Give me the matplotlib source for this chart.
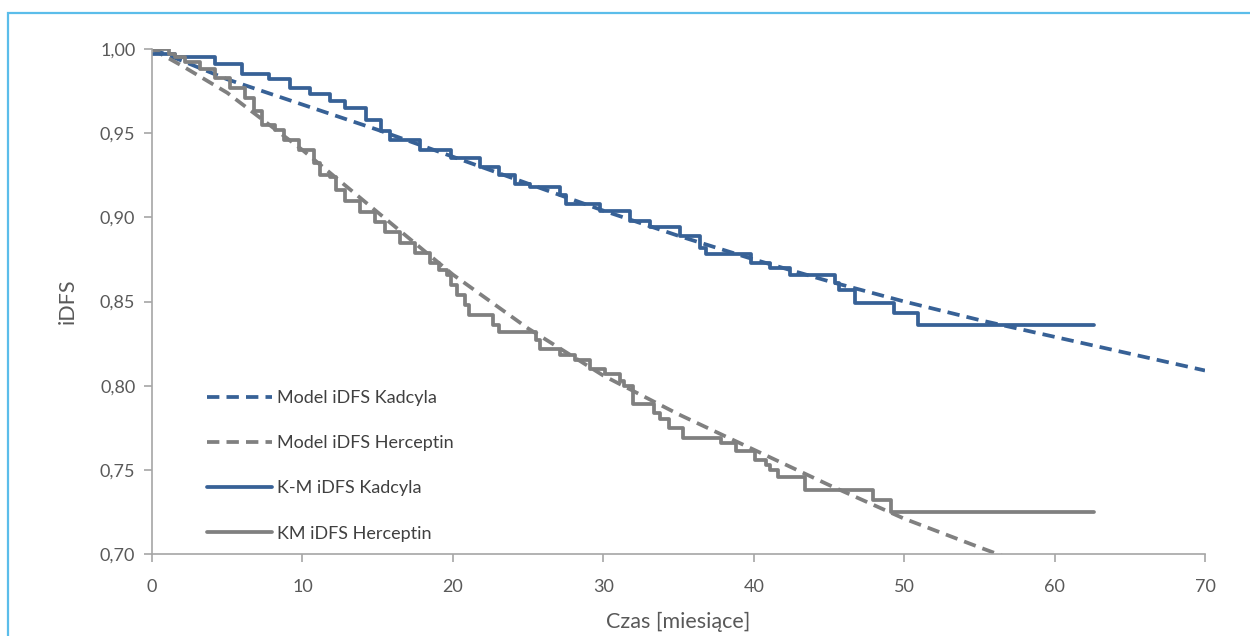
import matplotlib
matplotlib.use("Agg")
from matplotlib import pyplot as plt
from matplotlib.patches import Rectangle

plt.rcParams['font.family'] = ['Lato', 'DejaVu Sans']

# dane
model_x = [0, 2, 5, 10, 15, 20, 25, 30, 35, 40, 45, 50, 55, 60, 65, 70]
model_kadcyla = [1.0, 0.993, 0.982, 0.967, 0.952, 0.936, 0.920, 0.904, 0.889,
                 0.875, 0.862, 0.850, 0.839, 0.829, 0.819, 0.809]

model_h_x = [0, 2, 5, 10, 15, 20, 25, 30, 35, 40, 45, 50, 55, 56.5]
model_herceptin = [1.0, 0.990, 0.974, 0.940, 0.903, 0.866, 0.834, 0.806, 0.783,
                   0.762, 0.741, 0.721, 0.704, 0.699]

km_k_t = [0, 1.5, 4.2, 6.0, 7.8, 9.2, 10.5, 11.8, 12.8, 14.2, 15.2, 15.8, 17.8,
          19.9, 21.8, 23.1, 24.1, 25.1, 27.1, 27.5, 29.8, 31.8, 33.1, 35.1, 36.4,
          36.8, 39.8, 41.1, 42.4, 45.4, 45.7, 46.7, 49.3, 50.9, 62.6]
km_k_s = [0.997, 0.995, 0.991, 0.985, 0.982, 0.977, 0.973, 0.969, 0.965, 0.958,
          0.951, 0.946, 0.940, 0.935, 0.930, 0.925, 0.920, 0.918, 0.913, 0.908,
          0.904, 0.898, 0.894, 0.889, 0.882, 0.878, 0.873, 0.870, 0.866, 0.861,
          0.857, 0.849, 0.843, 0.836, 0.836]

km_h_t = [0, 1.1, 1.5, 2.2, 3.2, 4.2, 5.2, 6.2, 6.8, 7.3, 8.2, 8.8, 9.8, 10.8,
          11.2, 11.8, 12.2, 12.8, 13.8, 14.8, 15.5, 16.5, 17.5, 18.5, 19.1, 19.6,
          19.9, 20.3, 20.8, 21.1, 22.7, 23.1, 25.5, 25.8, 27.1, 28.1, 29.1, 30.1,
          31.1, 31.4, 32.0, 33.4, 33.8, 34.4, 35.3, 37.8, 38.8, 40.1, 40.8, 41.1,
          41.6, 43.4, 47.9, 49.1, 62.6]
km_h_s = [1.0, 0.997, 0.995, 0.992, 0.988, 0.983, 0.977, 0.971, 0.963, 0.955,
          0.952, 0.946, 0.940, 0.932, 0.925, 0.924, 0.916, 0.910, 0.903, 0.897,
          0.891, 0.885, 0.879, 0.873, 0.869, 0.866, 0.860, 0.854, 0.848, 0.842,
          0.836, 0.832, 0.827, 0.822, 0.818, 0.815, 0.810, 0.807, 0.803, 0.800,
          0.789, 0.784, 0.780, 0.775, 0.769, 0.766, 0.761, 0.756, 0.753, 0.750,
          0.746, 0.738, 0.732, 0.725, 0.725]

x_ticks = [0, 10, 20, 30, 40, 50, 60, 70]
y_ticks = [0.70, 0.75, 0.80, 0.85, 0.90, 0.95, 1.00]
y_labels = ["0,70", "0,75", "0,80", "0,85", "0,90", "0,95", "1,00"]

blue = "#376196"
gray = "#808080"
txt = "#595959"

fig = plt.figure(figsize=(12.5, 6.36), dpi=100)
# ramka wykresu (ucięta z prawej i u dołu)
fig.patches.append(Rectangle((8 / 1250, -0.2), 2, 0.2 + 1 - 13 / 636,
                             transform=fig.transFigure, fill=False,
                             edgecolor="#5bbdea", lw=1.6))

ax = fig.add_axes([152 / 1250, 1 - 554 / 636, (1205 - 152) / 1250, (554 - 49) / 636])

lw = 2.7
dash = (0, (3.3, 1.9))
ax.plot(model_x, model_kadcyla, color=blue, lw=lw, linestyle=dash, label="Model iDFS Kadcyla")
ax.plot(model_h_x, model_herceptin, color=gray, lw=lw, linestyle=dash, label="Model iDFS Herceptin")
ax.step(km_k_t, km_k_s, where="post", color=blue, lw=lw, label="K-M iDFS Kadcyla", solid_capstyle="round")
ax.step(km_h_t, km_h_s, where="post", color=gray, lw=lw, label="KM iDFS Herceptin", solid_capstyle="round")

ax.set_xlim(0, 70)
ax.set_ylim(0.70, 1.00)
ax.set_xticks(x_ticks)
ax.set_xticklabels([str(v) for v in x_ticks])
ax.set_yticks(y_ticks)
ax.set_yticklabels(y_labels)

for s in ["top", "right"]:
    ax.spines[s].set_visible(False)
for s in ["left", "bottom"]:
    ax.spines[s].set_color("#a6a6a6")
    ax.spines[s].set_linewidth(1.2)
ax.tick_params(axis="both", colors="#a6a6a6", labelcolor=txt, labelsize=13,
               length=6, width=1.2, direction="out")
ax.tick_params(axis="x", pad=12)
ax.tick_params(axis="y", pad=6)

ax.set_xlabel("Czas [miesiące]", fontsize=15.5, color=txt, labelpad=12)
ax.set_ylabel("iDFS", fontsize=15.5, color=txt, labelpad=16)

leg = ax.legend(loc="upper left", bbox_to_anchor=(0.037, 0.357), frameon=False,
                fontsize=13, labelspacing=1.62, handlelength=3.6, handletextpad=0.25)
for t in leg.get_texts():
    t.set_color("#404040")

plt.savefig("out.png", dpi=100)
